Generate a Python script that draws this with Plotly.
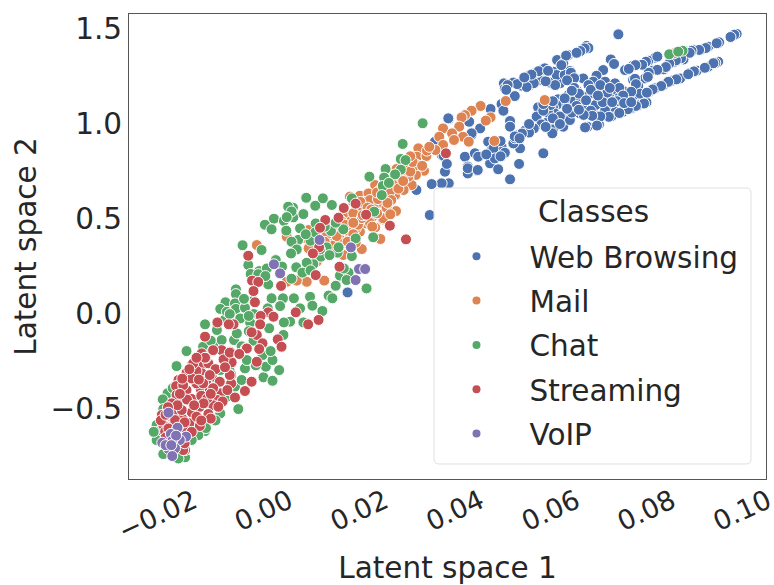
import plotly.graph_objects as go

classes = ["Web Browsing", "Mail", "Chat", "Streaming", "VoIP"]
colors = ["#4c72b0", "#dd8452", "#55a868", "#c44e52", "#8172b3"]

web = [(.0748,1.472),(.0997,1.474),(.0987,1.463),(.0960,1.430),(.0937,1.407),(.0923,1.393),(.0906,1.389),(.0892,1.381),(.0885,1.340),(.0867,1.328),
(.0843,1.288),(.0819,1.281),(.0804,1.240),(.0779,1.232),(.0790,1.200),(.0825,1.349),(.0811,1.333),(.0804,1.319),(.0778,1.305),(.0762,1.284),
(.0958,1.328),(.0937,1.302),(.0913,1.281),(.0899,1.270),(.0878,1.240),(.0860,1.228),(.0843,1.205),(.0825,1.188),(.0813,1.170),(.0790,1.153),
(.0807,1.114),(.0790,1.100),(.0774,1.083),(.0758,1.065),(.0734,1.042),(.0716,1.047),(.0699,1.047),(.0681,1.053),(.0667,1.056),(.0707,.998),(.0683,.986),
(.0674,1.240),(.0653,1.237),(.0625,1.214),(.0604,1.218),(.0583,1.232),(.0562,1.205),(.0544,1.202),(.0527,1.218),(.0507,1.214),(.0509,1.188),(.0530,1.147),
(.0506,1.074),(.0502,1.105),(.0479,1.079),(.0681,1.411),(.0673,1.390),(.0664,1.381),(.0642,1.363),(.0619,1.337),(.0632,1.319),(.0627,1.293),(.0611,1.275),
(.0646,1.279),(.0586,1.284),(.0576,1.272),(.0560,1.254),(.0593,1.293),(.0618,1.258),(.0635,1.258),(.0732,1.340),(.0739,1.316),(.0716,1.284),(.0702,1.254),
(.0720,1.223),(.0741,1.214),(.0695,1.223),(.0685,1.205),(.0660,1.179),(.0678,1.144),(.0695,1.161),(.0713,1.176),(.0737,1.153),(.0758,1.174),(.0748,1.135),
(.0730,1.135),(.0706,1.126),(.0643,1.153),(.0621,1.130),(.0653,1.118),(.0681,1.100),(.0635,1.100),(.0618,1.100),(.0611,1.083),(.0579,1.088),(.0576,1.039),
(.0600,1.012),(.0632,.986),(.0632,1.030),(.0646,1.021),(.0614,1.056),(.0586,.998),(.0570,.977),(.0611,.972),(.0609,.951),(.0551,.965),(.0537,.942),(.0520,1.016),
(.0520,.986),(.0737,1.091),(.0723,1.095),(.0391,1.026),(.0457,.977),(.0439,.942),(.0474,.907),(.0425,.828),(.0448,.846),(.0481,.863),(.0492,.828),(.0478,.793),
(.0495,.762),(.0451,.755),(.0431,.740),(.0431,.776),(.0386,.790),(.0383,.749),(.0520,.709),(.0539,.790),(.0590,.846),(.0509,.846),(.0541,.872),(.0527,.898),
(.0502,.881),(.0530,.925),(.0365,.912),(.0376,.837),(.0391,.688),(.0376,.688),(.0355,.684),(.0323,.653),(.0351,.521),(.0178,.114),
(.0670,1.130),(.0660,1.095),(.0700,1.100),(.0725,1.165),(.0750,1.190),(.0770,1.140),(.0690,1.070),(.0720,1.070),(.0650,1.060),(.0600,1.060),(.0625,1.040),
(.0390,1.030),(.0434,1.012),(.0439,.951),(.0362,.907),(.0380,.833),(.0387,.790),(.0446,.846),(.0453,.828),(.0431,.767),(.0452,.758),(.0485,.872),(.0488,.819),(.0509,.849),(.0506,1.070),
(.0992,1.470),(.0984,1.458),(.0955,1.425),(.0932,1.400),(.0918,1.390),(.0902,1.385),(.0898,1.375),(.0880,1.346),(.0869,1.335),(.0855,1.318),(.0848,1.300),(.0830,1.285),(.0812,1.270),
(.0830,1.355),(.0806,1.328),(.0798,1.312),(.0784,1.310),(.0770,1.290),(.0810,1.248),(.0783,1.238),(.0785,1.210),(.0794,1.160),(.0775,1.170),(.0758,1.150),(.0745,1.120),
(.0952,1.322),(.0948,1.320),(.0930,1.296),(.0907,1.277),(.0895,1.262),(.0870,1.235),(.0853,1.222),(.0838,1.200),(.0820,1.182),(.0808,1.165),(.0802,1.108),(.0785,1.095),(.0768,1.078),(.0750,1.058),
(.0728,1.038),(.0710,1.040),(.0693,1.043),(.0675,1.048),(.0703,.992),(.0678,.982),(.0685,1.400),(.0677,1.398),(.0668,1.384),(.0660,1.375),(.0638,1.360),(.0628,1.310),(.0648,1.270),(.0655,1.241),
(.0640,1.230),(.0615,1.205),(.0595,1.225),(.0570,1.215),(.0555,1.195),(.0535,1.210),(.0515,1.205),(.0512,1.180),(.0580,1.278),(.0565,1.260),(.0550,1.245),(.0600,1.280),(.0655,1.190),(.0665,1.160),
(.0690,1.180),(.0710,1.205),(.0730,1.190),(.0650,1.175),(.0635,1.135),(.0605,1.100),(.0590,1.070),(.0610,1.030),(.0625,1.000),(.0595,.985),(.0560,.955),(.0545,.950),(.0530,.935),(.0540,.925),
(.0610,1.120),(.0590,1.105),(.0640,1.080),(.0665,1.075),(.0680,1.125),(.0715,1.115),(.0705,1.150),(.0735,1.115),(.0760,1.110),(.0775,1.115),(.0500,.830),(.0470,.840),(.0500,.910),(.0560,1.000)]

mail = [(.0327,.872),(.0345,.832),(.0324,.828),(.0324,.784),(.0301,.772),(.0339,.754),(.0322,.732),(.0289,.723),(.0275,.749),(.0306,.714),(.0271,.679),(.0236,.679),
(.0297,.653),(.0313,.679),(.0280,.626),(.0264,.635),(.0232,.626),(.0204,.623),(.0222,.635),(.0215,.591),(.0236,.574),(.0254,.591),(.0197,.556),(.0176,.504),
(.0197,.504),(.0215,.477),(.0236,.456),(.0252,.498),(.0280,.542),(.0218,.530),(.0183,.460),(.0204,.433),(.0162,.416),(.0141,.390),(.0183,.407),(.0169,.372),
(.0247,.395),(.0208,.342),(.0124,.407),(.0096,.442),(.0050,.407),(.0096,.346),(-.0013,.363),(.0113,.276),(.0092,.170),(.0129,.176),(.0071,.176),(.0050,.170),
(.0169,.311),(.0148,.372),(.0458,1.095),(.0439,1.070),(.0425,1.047),(.0418,1.035),(.0479,1.035),(.0469,1.018),(.0379,.977),(.0413,.986),(.0398,.951),(.0371,.933),
(.0421,.933),(.0402,.916),(.0433,.907),(.0379,.890),(.0363,.863),(.0344,.832),(.0323,.784),(.0301,.770),(.0511,1.121),(.0593,1.126),(.0487,.911),(.0306,.723),
(.0296,.653),(.0865,1.372),(.0260,.700),(.0250,.660),(.0285,.690),(.0190,.590),(.0210,.560),(.0160,.470),(.0230,.510),(.0150,.440),(.0120,.360),(.0195,.450),
(.0281,.763),(.0288,.723),(.0278,.627),(.0267,.644),(.0253,.583),(.0183,.618),(.0253,.504),(.0270,.600),(.0245,.650),(.0225,.600),(.0205,.590),(.0240,.530),(.0225,.480),(.0200,.470),
(.0175,.440),(.0190,.420),(.0155,.410),(.0135,.420),(.0170,.530),(.0165,.490),(.0145,.360),(.0130,.380),(.0110,.400),(.0220,.560),(.0260,.560),(.0285,.660),(.0295,.700),(.0310,.750),(.0315,.800),(.0335,.780),
(.0190,.530),(.0208,.505),(.0228,.550),(.0242,.605),(.0262,.585),(.0268,.525),(.0172,.470),(.0150,.470),(.0190,.480),(.0178,.380),(.0195,.375),(.0160,.350),(.0090,.400),(.0345,.860),(.0350,.880),(.0310,.830),(.0255,.700),(.0240,.640),(.0210,.520),(.0230,.460)]

chat = [(.0294,.895),(.0290,.816),(.0258,.763),(.0255,.718),(.0224,.723),(.0252,.674),(.0250,.626),(.0187,.609),(.0234,.539),(.0195,.398),(.0232,.404),(.0091,.612),
(.0126,.609),(.0145,.574),(.0110,.570),(.0063,.560),(.0053,.565),(.0064,.509),(.0085,.526),(.0023,.502),(.0044,.490),(.0004,.470),(.0018,.446),(.0049,.439),
(.0078,.451),(.0111,.477),(.0143,.437),(.0169,.446),(.0153,.481),(.0074,.390),(.0060,.381),(.0100,.386),(-.0043,.362),(-.0003,.337),(.0071,.340),(.0059,.319),
(.0134,.351),(.0157,.323),(.0159,.351),(.0187,.305),(.0122,.302),(-.0031,.258),(-.0008,.226),(.0008,.240),(.0027,.284),(.0070,.246),(.0106,.263),(.0092,.270),
(.0083,.218),(.0060,.186),(.0011,.156),(-.0026,.211),(.0162,.202),(.0180,.218),(.0176,.179),(.0153,.149),(.0218,.135),(.0099,.091),(.0138,.097),(.0146,.083),
(.0065,.083),(.0018,.083),(.0042,.083),(.0036,.042),(.0078,.030),(.0104,.044),(.0125,.016),(-.0057,.130),(-.0057,.105),(-.0079,.062),(-.0059,.056),(-.0057,.027),
(-.0090,.027),(-.0038,.033),(-.0019,.000),(-.0122,-.054),(-.0027,-.040),(.0057,-.040),(.0044,-.044),(.0085,-.044),(-.0048,-.023),(-.0081,-.031),(.0336,1.004),
(.0855,1.367),(.0883,1.386),(.0874,1.381),(-.0097,-.084),(-.0161,-.195),(-.0182,-.274),(-.0201,-.417),(-.0211,-.449),(-.0052,-.500),(-.0090,-.523),(-.0076,-.435),
(-.0059,-.382),(-.0038,-.286),(-.0045,-.347),(.0001,-.333),(.0020,-.351),(.0034,-.295),(.0006,-.277),(.0020,-.242),(-.0001,-.216),(.0016,-.195),(-.0034,-.242),
(-.0090,-.295),(-.0104,-.154),(-.0087,-.137),(-.0061,-.137),(-.0055,-.102),(.0013,-.075),(-.0027,-.046),(-.0076,.012),(.0043,-.110),(-.0126,-.172),(-.0224,-.584),
(-.0220,-.619),(-.0122,-.616),(-.0136,-.637),(-.0150,-.663),(-.0164,-.754),(-.0210,-.737),(-.0178,-.760),(-.0224,-.663),(-.0030,-.090),(-.0020,-.140),(-.0045,-.170),
(-.0015,-.270),(-.0070,-.300),(-.0075,-.380),(-.0110,-.140),(-.0190,-.390),(-.0210,-.500),(-.0230,-.620),(-.0100,-.560),(-.0120,-.600),
(.0300,.810),(.0290,.760),(.0278,.735),(.0265,.690),(.0060,.540),(.0050,.510),(.0110,.430),(.0130,.460),(.0090,.420),(.0140,.310),(.0120,.340),(-.0010,.210),(.0005,.200),(.0040,.250),(.0100,.230),(.0170,.240),(.0010,.030),(-.0020,.070),(-.0040,.080),(-.0070,.000),(-.0030,-.010)]

streaming = [(.0301,.393),(.0267,.465),(.0217,.523),(.0195,.581),(.0170,.558),(.0159,.507),(.0131,.495),(.0120,.454),(.0118,.351),(.0105,.319),(-.0031,.307),(.0161,.249),
(.0111,.205),(-.0023,.176),(-.0010,.169),(.0038,.148),(-.0020,.121),(-.0017,.062),(.0011,.009),(-.0005,-.010),(.0022,-.014),(.0069,.009),(.0117,-.031),(.0095,-.054),
(-.0096,-.044),(-.0062,-.054),(-.0072,-.054),(-.0006,-.054),(.0385,.846),(-.0122,-.119),(.0031,-.133),(.0039,-.172),(-.0013,-.110),(-.0024,-.096),(-.0001,-.154),
(-.0008,-.184),(-.0036,-.181),(-.0069,-.198),(-.0087,-.190),(-.0107,-.195),(-.0129,-.207),(-.0013,-.251),(-.0066,-.254),(-.0083,-.239),(-.0129,-.268),(-.0150,-.268),
(-.0115,-.259),(-.0067,-.321),(-.0024,-.356),(-.0067,-.365),(-.0092,-.356),(-.0108,-.330),(-.0129,-.312),(-.0161,-.309),(-.0150,-.344),(-.0178,-.347),(-.0183,-.379),
(-.0131,-.396),(-.0112,-.395),(-.0161,-.400),(-.0038,-.405),(-.0059,-.439),(-.0089,-.417),(-.0119,-.444),(-.0150,-.447),(-.0171,-.453),(-.0182,-.426),(-.0192,-.470),
(-.0096,-.488),(-.0133,-.488),(-.0173,-.502),(-.0150,-.517),(-.0114,-.528),(-.0213,-.531),(-.0189,-.549),(-.0155,-.575),(-.0133,-.589),(-.0210,-.584),(-.0164,-.716),
(-.0206,-.619),(-.0097,-.452),(-.0140,-.365),(-.0168,-.374),(-.0119,-.347),(-.0140,-.300),(-.0120,-.230),(-.0100,-.290),(-.0160,-.450),(-.0130,-.430),(-.0190,-.520),
(-.0170,-.550),(-.0190,-.590),(-.0140,-.540),(-.0160,-.620),(-.0105,-.480),(-.0085,-.460),
(-.0147,-.260),(-.0105,-.190),(-.0070,-.203),(-.0034,-.181),(-.0150,-.339),(-.0126,-.365),(-.0112,-.321),(-.0091,-.356),(-.0070,-.321),(-.0094,-.488),(-.0117,-.444),(-.0115,-.526),(-.0171,-.505),
(-.0185,-.558),(-.0199,-.602),(-.0168,-.716),(-.0122,-.230),(-.0140,-.230),(-.0155,-.290),(-.0170,-.340),(-.0135,-.345),(-.0105,-.390),(-.0075,-.400),(-.0125,-.470),(-.0145,-.480),(-.0180,-.480),
(-.0200,-.490),(-.0165,-.570),(-.0180,-.600),(-.0150,-.620),(-.0215,-.560),(-.0205,-.530),(-.0175,-.420),(-.0110,-.420),(-.0080,-.280),(-.0050,-.210),(-.0110,-.550),(-.0130,-.560),(-.0205,-.650),(-.0165,-.680)]

voip = [(.0119,.390),(.0185,.351),(.0023,.262),(.0036,.214),(.0202,.237),(.0215,.237),(.0195,.179),(-.0199,-.519),(-.0180,-.598),(-.0194,-.631),(-.0162,-.645),
(-.0175,-.663),(-.0191,-.667),(-.0212,-.677),(-.0199,-.710),(-.0185,-.707),(-.0191,-.747),(-.0205,-.690),(-.0183,-.640),(-.0193,-.690)]

x_reading_scale = 4750 / 4785  # the values above were read against a slightly coarser tick spacing
x_range = [-.0280, .1051]
y_range = [-.868, 1.579]
x_ticks = [-.02, 0, .02, .04, .06, .08, .10]
y_ticks = [-.5, 0, .5, 1.0, 1.5]
FONT = "DejaVu Sans"
INK = "#262626"
SIZE = 29.5

fig = go.Figure()
for name, color, points in zip(classes, colors, [web, mail, chat, streaming, voip]):
    fig.add_trace(go.Scatter(x=[p[0] * x_reading_scale for p in points], y=[p[1] for p in points], mode="markers", name=name,
                             showlegend=False, marker=dict(size=11, color=color, line=dict(color="white", width=1))))
for name, color in zip(classes, colors):
    fig.add_trace(go.Scatter(x=[None], y=[None], mode="markers", name=name, legendgroup=name,
                             marker=dict(size=8, color=color)))

x0, x1, y0, y1, r, ry = .4788, .9765, .0323, .6258, .008, .011
fig.add_shape(type="path", xref="paper", yref="paper", layer="above",
              path=f"M {x0+r} {y0} L {x1-r} {y0} Q {x1} {y0} {x1} {y0+ry} L {x1} {y1-ry} Q {x1} {y1} {x1-r} {y1} "
                   f"L {x0+r} {y1} Q {x0} {y1} {x0} {y1-ry} L {x0} {y0+ry} Q {x0} {y0} {x0+r} {y0} Z",
              fillcolor="rgba(255,255,255,0.8)", line=dict(color="#e0e0e0", width=1))

title_font = dict(size=SIZE, family=FONT, color=INK)
fig.add_annotation(text="Classes", xref="paper", yref="paper", x=.7285, y=.5742, xanchor="center", yanchor="middle",
                   showarrow=False, font=title_font)
fig.update_layout(
    width=774, height=585, autosize=False,
    margin=dict(l=129, r=8, t=14, b=106, autoexpand=False),
    paper_bgcolor="white", plot_bgcolor="white",
    font=dict(family=FONT, color=INK, size=SIZE),
    legend=dict(x=.4623, y=.5344, xanchor="left", yanchor="top", bgcolor="rgba(0,0,0,0)", borderwidth=0,
                font=title_font, itemwidth=96, traceorder="grouped", tracegroupgap=3),
    xaxis=dict(range=x_range, tickmode="array", tickvals=x_ticks, tickformat=".2f", tickangle=-25, showgrid=False, zeroline=False,
               showline=True, mirror=True, linecolor="#555555", linewidth=1, ticks="", ticklabelshift=26, ticklabelstandoff=-5, automargin=False,
               ticklabeloverflow="allow", tickfont=dict(size=27, family=FONT, color=INK), title=dict(text="Latent space 1", font=title_font, standoff=12)),
    yaxis=dict(range=y_range, tickmode="array", tickvals=y_ticks, tickformat=".1f", showgrid=False, zeroline=False,
               showline=True, mirror=True, linecolor="#555555", linewidth=1, ticks="", automargin=False,
               ticklabeloverflow="allow", tickfont=title_font, title=dict(text="Latent space 2", font=title_font, standoff=5)),
)
fig.write_html("out.html", config={"displayModeBar": False},
               post_script="document.body.style.margin='0';document.documentElement.style.overflow='hidden';")
